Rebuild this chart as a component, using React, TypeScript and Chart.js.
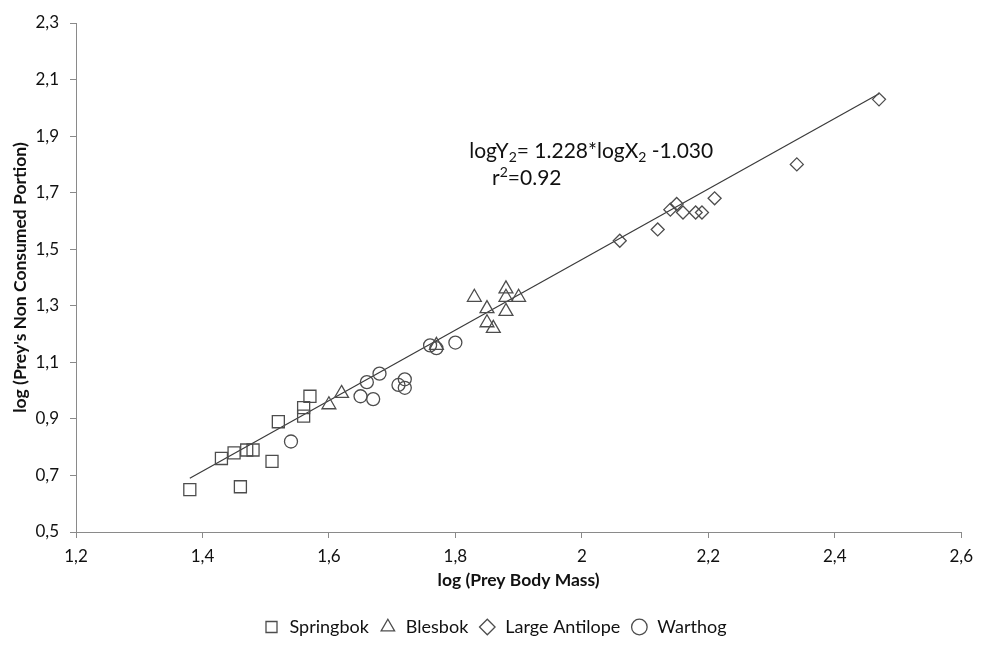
import React, { useEffect, useRef } from "react";
import { Chart, registerables } from "chart.js";

Chart.register(...registerables);

// ---- data ----
const springbokX = [1.38, 1.43, 1.45, 1.47, 1.48, 1.46, 1.51, 1.52, 1.56, 1.56, 1.57];
const springbokY = [0.65, 0.76, 0.78, 0.79, 0.79, 0.66, 0.75, 0.89, 0.94, 0.91, 0.98];
const blesbokX = [1.6, 1.62, 1.77, 1.83, 1.88, 1.88, 1.9, 1.85, 1.88, 1.85, 1.86];
const blesbokY = [0.95, 0.99, 1.16, 1.33, 1.36, 1.33, 1.33, 1.29, 1.28, 1.24, 1.22];
const antilopeX = [2.06, 2.12, 2.14, 2.15, 2.16, 2.18, 2.19, 2.21, 2.34, 2.47];
const antilopeY = [1.53, 1.57, 1.64, 1.66, 1.63, 1.63, 1.63, 1.68, 1.8, 2.03];
const warthogX = [1.54, 1.65, 1.67, 1.66, 1.68, 1.71, 1.72, 1.72, 1.76, 1.77, 1.8];
const warthogY = [0.82, 0.98, 0.97, 1.03, 1.06, 1.02, 1.04, 1.01, 1.16, 1.15, 1.17];
const trendX = [1.38, 2.47];
const trendY = [0.69, 2.05];

const seriesNames = ["Springbok", "Blesbok", "Large Antilope", "Warthog"];
const xTickLabels = ["1,2", "1,4", "1,6", "1,8", "2", "2,2", "2,4", "2,6"];
const yTickLabels = ["0,5", "0,7", "0,9", "1,1", "1,3", "1,5", "1,7", "1,9", "2,1", "2,3"];
const xTitle = "log (Prey Body Mass)";
const yTitle = "log (Prey's Non Consumed Portion)";
const eqLine1: [string, string][] = [["logY", ""], ["2", "sub"], ["= 1.228*logX", ""], ["2", "sub"], [" -1.030", ""]];
const eqLine2: [string, string][] = [["r", ""], ["2", "sup"], ["=0.92", ""]];
const eqAnchor1 = [1.822, 1.822];
const eqAnchor2 = [1.858, 1.727];

const FONT = "Lato, 'Open Sans', sans-serif";
const MARK = "#4d4d4d";
const AXIS = "#8a8a8a";

const pts = (xs: number[], ys: number[]) => xs.map((x, i) => ({ x, y: ys[i] }));

const eqPlugin = {
  id: "equation",
  afterDatasetsDraw(chart: any) {
    const { ctx, scales } = chart;
    const x = scales.x;
    const y = scales.y;
    ctx.save();
    ctx.fillStyle = "#111";
    ctx.textBaseline = "alphabetic";
    ctx.textAlign = "left";
    const draw = (parts: [string, string][], anchor: number[]) => {
      let cx = x.getPixelForValue(anchor[0]);
      const by = y.getPixelForValue(anchor[1]);
      for (const [t, kind] of parts) {
        ctx.font = kind ? `14px ${FONT}` : `21px ${FONT}`;
        const dy = kind === "sub" ? 4 : kind === "sup" ? -8 : 0;
        ctx.fillText(t, cx, by + dy);
        cx += ctx.measureText(t).width;
      }
    };
    draw(eqLine1, eqAnchor1);
    draw(eqLine2, eqAnchor2);
    ctx.restore();
  },
};

export default function App() {
  const ref = useRef<HTMLCanvasElement | null>(null);
  useEffect(() => {
    if (!ref.current) return;
    const markerBase = {
      borderColor: MARK,
      backgroundColor: "rgba(0,0,0,0)",
      pointBorderColor: MARK,
      pointBackgroundColor: "rgba(0,0,0,0)",
      borderWidth: 1.3,
      pointBorderWidth: 1.3,
      showLine: false,
    };
    const chart = new Chart(ref.current, {
      type: "scatter",
      data: {
        datasets: [
          { ...markerBase, label: seriesNames[0], data: pts(springbokX, springbokY), pointStyle: "rect", pointRadius: 8.5 },
          { ...markerBase, label: seriesNames[1], data: pts(blesbokX, blesbokY), pointStyle: "triangle", pointRadius: 8 },
          { ...markerBase, label: seriesNames[2], data: pts(antilopeX, antilopeY), pointStyle: "rectRot", pointRadius: 6.5 },
          { ...markerBase, label: seriesNames[3], data: pts(warthogX, warthogY), pointStyle: "circle", pointRadius: 6.5 },
          {
            label: "trend",
            data: pts(trendX, trendY),
            showLine: true,
            borderColor: "#3a3a3a",
            borderWidth: 1.2,
            pointRadius: 0,
            fill: false,
          },
        ],
      },
      options: {
        responsive: false,
        animation: false,
        layout: { padding: { top: 23, right: 18, left: 26, bottom: 0 } },
        plugins: {
          tooltip: { enabled: false },
          legend: {
            position: "bottom",
            labels: {
              usePointStyle: true,
              boxHeight: 11,
              padding: 10,
              color: "#111",
              font: { family: FONT, size: 18 },
              filter: (item: any) => item.datasetIndex < 4,
            },
          },
        },
        scales: {
          x: {
            type: "linear",
            min: 1.2,
            max: 2.6,
            ticks: {
              stepSize: 0.2,
              padding: 8,
              color: "#111",
              font: { family: FONT, size: 17 },
              callback: (_v: any, i: number) => xTickLabels[i],
            },
            grid: { display: true, drawOnChartArea: false, drawTicks: true, tickLength: 6, color: AXIS },
            border: { display: true, color: AXIS },
            title: {
              display: true,
              text: xTitle,
              color: "#111",
              font: { family: FONT, size: 17.5, weight: "bold" },
              padding: { top: 0, bottom: 17.5 },
            },
            afterFit: (s: any) => {
              s.height = 76;
            },
          },
          y: {
            type: "linear",
            min: 0.5,
            max: 2.3,
            ticks: {
              stepSize: 0.2,
              padding: 11,
              color: "#111",
              font: { family: FONT, size: 17 },
              callback: (_v: any, i: number) => yTickLabels[i],
            },
            grid: { display: true, drawOnChartArea: false, drawTicks: true, tickLength: 6, color: AXIS },
            border: { display: true, color: AXIS },
            title: {
              display: true,
              text: yTitle,
              color: "#111",
              font: { family: FONT, size: 17.5, weight: "bold" },
              padding: { top: -16.5, bottom: 0 },
            },
            afterFit: (s: any) => {
              s.width = 50;
            },
          },
        },
      } as any,
      plugins: [eqPlugin],
    });
    return () => chart.destroy();
  }, []);
  return (
    <div style={{ position: "fixed", left: 0, top: 0, width: 981, height: 646, background: "#fff" }}>
      <canvas ref={ref} width={981} height={646} style={{ width: 981, height: 646, display: "block" }} />
    </div>
  );
}
